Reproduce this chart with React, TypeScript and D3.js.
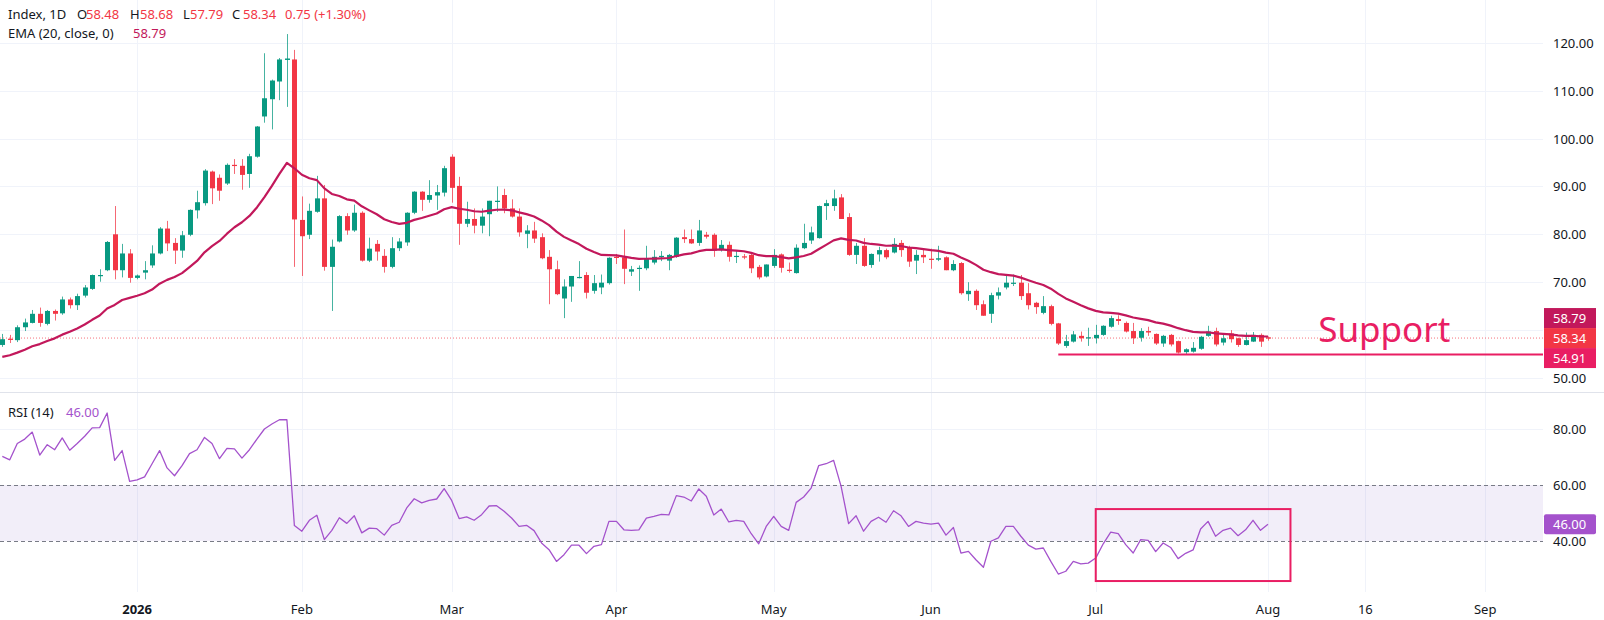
import React, { useEffect, useRef } from 'react';
import * as d3 from 'd3';

// Daily bars, index 0 = first visible bar
const opens = [
  56.9, 58.2, 57.9, 60.6, 61.5, 63.4, 61.3, 64.0, 63.5, 66.4,
  65.2, 67.2, 68.6, 71.3, 72.5, 80.0, 72.5, 76.0, 70.9, 72.0,
  73.5, 76.0, 81.2, 78.2, 76.6, 79.9, 85.0, 86.5, 93.1, 91.8,
  90.6, 94.5, 94.3, 92.6, 96.2, 104.6, 108.2, 111.9, 116.4, 116.5,
  83.0, 79.9, 84.7, 87.5, 73.2, 78.5, 83.8, 80.8, 84.5, 74.5,
  78.0, 75.5, 73.2, 77.1, 78.3, 84.5, 88.9, 87.2, 88.1, 88.7,
  96.2, 90.1, 82.2, 83.2, 81.8, 84.2, 86.8, 88.2, 85.4, 83.7,
  80.1, 80.8, 79.4, 75.3, 72.7, 66.6, 69.1, 71.0, 71.5, 68.2,
  68.9, 69.8, 75.3, 75.2, 72.2, 72.9, 72.9, 74.1, 75.4, 74.5,
  75.3, 79.4, 79.0, 78.2, 79.9, 79.9, 76.7, 77.8, 75.4, 75.4,
  75.7, 73.2, 71.2, 73.4, 75.8, 72.6, 71.9, 77.1, 78.7, 79.2,
  85.9, 85.9, 87.7, 83.6, 75.7, 77.6, 73.6, 75.8, 76.7, 76.2,
  78.2, 77.3, 74.5, 75.7, 74.9, 74.7, 75.2, 72.5, 74.0, 67.5,
  68.2, 65.4, 63.4, 67.2, 68.9, 69.8, 69.9, 67.7, 65.7, 63.6,
  65.0, 61.4, 56.7, 57.6, 58.8, 58.3, 58.3, 59.0, 60.7, 62.3,
  61.5, 59.8, 58.4, 59.8, 59.2, 57.2, 59.0, 57.7, 55.4, 55.5,
  56.1, 58.8, 59.8, 57.4, 59.3, 58.3, 56.9, 57.6, 59.0, 58.48,
];

const highs = [
  59.2, 59.0, 61.0, 62.4, 64.2, 64.7, 64.2, 64.3, 67.0, 66.8,
  67.6, 69.4, 71.6, 72.7, 78.6, 85.9, 78.0, 76.9, 71.6, 74.4,
  77.7, 81.5, 82.8, 79.2, 80.7, 85.2, 89.1, 93.6, 93.3, 92.5,
  94.8, 95.7, 95.7, 96.8, 102.6, 117.8, 112.3, 116.8, 121.8, 118.5,
  87.9, 86.4, 92.2, 90.3, 78.9, 84.0, 84.4, 86.2, 84.8, 79.3,
  78.8, 76.9, 79.4, 79.2, 84.6, 89.0, 89.0, 91.3, 90.3, 94.3,
  96.7, 92.0, 86.8, 85.4, 85.4, 87.0, 90.0, 89.5, 87.3, 85.4,
  81.9, 82.6, 80.2, 76.7, 74.5, 70.6, 71.3, 74.4, 72.1, 71.5,
  71.6, 75.2, 75.9, 81.0, 73.4, 73.5, 77.6, 76.7, 76.5, 75.9,
  79.4, 81.0, 81.0, 83.0, 80.5, 80.2, 78.8, 78.5, 76.5, 75.9,
  76.0, 73.6, 73.7, 76.9, 76.0, 74.1, 77.9, 82.2, 81.6, 86.0,
  87.2, 89.3, 88.4, 84.4, 78.2, 79.2, 76.0, 77.4, 77.0, 79.2,
  78.8, 77.6, 76.7, 77.0, 77.0, 77.6, 75.4, 74.6, 74.2, 70.0,
  68.5, 66.2, 67.8, 68.9, 71.4, 71.6, 71.5, 69.8, 65.9, 67.1,
  65.3, 61.5, 59.0, 59.8, 59.7, 60.5, 61.1, 61.0, 63.0, 63.1,
  61.8, 61.5, 60.4, 60.7, 59.3, 59.0, 59.2, 57.8, 56.2, 57.5,
  58.8, 60.9, 60.5, 59.1, 60.0, 58.4, 59.5, 59.6, 59.3, 58.68,
];

const lows = [
  56.5, 57.3, 57.5, 59.8, 61.4, 60.7, 61.0, 62.0, 63.2, 64.5,
  64.2, 66.8, 68.4, 70.1, 72.3, 70.6, 71.0, 69.9, 70.6, 70.6,
  73.0, 75.8, 76.5, 73.8, 75.1, 79.6, 83.3, 86.0, 86.3, 87.0,
  90.3, 92.6, 89.3, 89.7, 96.0, 103.3, 101.9, 108.0, 106.6, 73.2,
  71.3, 79.0, 84.5, 72.4, 64.0, 78.3, 79.9, 80.5, 74.3, 74.2,
  74.5, 72.0, 72.9, 76.5, 77.6, 84.2, 84.9, 86.6, 85.1, 87.9,
  86.6, 77.8, 81.5, 80.2, 80.2, 79.6, 84.7, 84.4, 83.5, 79.5,
  77.1, 78.2, 74.8, 65.4, 67.3, 62.5, 65.9, 70.8, 66.6, 67.6,
  67.5, 69.5, 73.8, 69.6, 71.3, 68.2, 72.5, 73.7, 74.4, 72.5,
  75.1, 78.2, 78.0, 77.6, 79.1, 75.3, 76.4, 74.3, 74.0, 74.8,
  71.9, 70.6, 71.0, 73.0, 72.0, 72.0, 71.8, 76.9, 78.0, 79.1,
  83.0, 84.9, 83.2, 75.5, 73.8, 73.2, 73.0, 74.3, 74.8, 76.0,
  75.3, 73.2, 71.7, 74.0, 72.8, 74.4, 72.5, 72.3, 67.4, 66.1,
  64.2, 63.0, 61.5, 66.4, 68.5, 69.2, 66.3, 64.3, 63.4, 63.3,
  61.0, 56.9, 56.3, 57.4, 57.6, 56.7, 57.2, 58.8, 60.5, 61.1,
  59.5, 57.1, 57.6, 58.8, 56.9, 56.5, 56.6, 55.1, 54.95, 55.3,
  55.9, 58.6, 56.6, 56.8, 57.4, 56.5, 56.8, 57.5, 56.5, 57.79,
];

const closes = [
  58.1, 58.0, 60.6, 61.6, 63.4, 61.5, 64.0, 63.4, 66.4, 65.2,
  67.1, 68.9, 71.5, 71.5, 78.4, 72.5, 76.0, 70.9, 71.4, 72.5,
  76.0, 81.2, 78.1, 76.6, 79.8, 85.1, 86.7, 93.3, 89.6, 89.1,
  94.5, 94.3, 92.4, 96.3, 102.5, 108.4, 112.1, 116.5, 116.7, 83.1,
  79.6, 84.9, 87.5, 73.2, 77.4, 83.8, 80.8, 84.5, 74.5, 77.0,
  76.4, 73.2, 77.1, 78.5, 84.5, 88.9, 87.2, 88.2, 88.8, 93.8,
  89.7, 82.2, 83.2, 81.8, 83.7, 87.0, 87.0, 85.4, 83.7, 80.4,
  80.8, 79.1, 75.0, 72.7, 67.5, 69.1, 71.3, 71.1, 67.8, 69.8,
  69.9, 75.1, 75.2, 72.8, 72.7, 73.0, 75.0, 75.3, 75.5, 75.7,
  79.3, 79.0, 78.1, 80.8, 79.5, 76.6, 77.8, 75.3, 75.5, 75.3,
  72.9, 71.0, 73.7, 75.7, 73.0, 72.4, 77.2, 78.2, 80.4, 85.9,
  86.5, 87.5, 83.2, 75.7, 77.6, 73.4, 75.9, 76.7, 75.2, 78.0,
  76.7, 74.3, 75.7, 75.2, 74.8, 75.0, 72.5, 73.8, 67.7, 68.2,
  65.2, 63.0, 67.3, 67.9, 69.9, 69.9, 67.1, 65.2, 64.8, 65.0,
  61.3, 57.2, 57.7, 59.1, 58.3, 58.5, 59.0, 60.9, 62.5, 61.9,
  59.7, 58.3, 59.8, 59.5, 57.2, 58.8, 57.0, 55.3, 56.0, 56.3,
  58.6, 59.7, 57.0, 58.3, 58.1, 56.9, 57.9, 59.0, 57.59, 58.34,
];

// RSI(14) per bar
const rsiValues = [
  70.2, 69.0, 74.8, 76.4, 78.9, 70.7, 74.4, 72.6, 76.8, 72.4,
  74.8, 77.4, 80.4, 80.5, 85.7, 68.8, 72.3, 61.3, 61.8, 62.9,
  67.6, 72.3, 66.1, 63.3, 66.9, 71.2, 72.6, 77.0, 74.8, 69.4,
  73.1, 72.9, 69.6, 72.6, 76.4, 80.0, 81.8, 83.3, 83.3, 45.5,
  43.5, 47.4, 49.2, 40.5, 43.8, 48.3, 46.3, 49.0, 42.9, 44.6,
  44.4, 42.1, 45.6, 46.7, 51.8, 55.1, 53.6, 54.5, 55.0, 58.7,
  54.5, 48.0, 48.6, 47.4, 49.4, 52.5, 52.6, 50.6, 48.2, 45.2,
  45.6, 43.7, 39.3, 36.9, 32.7, 35.1, 38.5, 38.5, 35.5, 38.1,
  38.7, 47.0, 47.0, 44.0, 43.8, 44.0, 48.2, 48.8, 49.5, 49.3,
  56.2, 55.7, 54.3, 58.6, 56.0, 49.3, 51.4, 46.8, 47.4, 47.0,
  42.6, 39.0, 45.2, 48.8, 45.2, 43.8, 53.8, 55.7, 58.9, 66.9,
  67.6, 68.8, 59.5, 46.2, 49.0, 43.5, 47.0, 48.5, 46.7, 50.8,
  49.0, 45.2, 47.0, 46.4, 46.0, 46.4, 42.1, 44.8, 35.7, 36.3,
  33.3, 30.6, 39.9, 41.1, 45.2, 45.2, 41.7, 38.5, 37.1, 37.5,
  32.7, 28.2, 29.2, 32.7, 31.8, 32.1, 33.9, 39.0, 43.2, 42.6,
  38.7, 35.7, 40.5, 40.2, 36.2, 39.3, 37.7, 33.7, 35.6, 36.8,
  44.3, 47.0, 41.7, 43.8, 44.6, 41.9, 44.0, 47.4, 43.8, 46.0,
];

const priceTicks = [50, 60, 70, 80, 90, 100, 110, 120];
const rsiTicks = [40, 60, 80];
const rsiBand = [40, 60];

// time axis labels, placed at bar index
const timeLabels = ['2026', 'Feb', 'Mar', 'Apr', 'May', 'Jun', 'Jul', 'Aug', '16', 'Sep'];
const timeBars = [18, 40, 60, 82, 103, 124, 146, 169, 182, 198];

const emaPeriod = 20;
const emaSeed = 54.4; // EMA value at the first visible bar
const lastEma = 58.79;
const lastClose = 58.34;
const lastRsi = 46.0;

const supportLevel = 54.91;
const supportFromBar = 141;
const supportTextAt = { bar: 175.7, price: 57.5 };
const rsiBox = { fromBar: 146, toBar: 172, top: 51.4, bottom: 25.7 };

const header = { symbol: 'Index, 1D', o: '58.48', h: '58.68', l: '57.79', c: '58.34', chg: '0.75 (+1.30%)' };

const W = 1604;
const H = 620;
const PLOT_RIGHT = 1543;
const PANE_SPLIT = 392;
const RSI_BOTTOM = 592;

const UP = '#089981';
const DOWN = '#f23645';
const EMA_COLOR = '#c2185b';
const RSI_COLOR = '#a452cc';
const PINK = '#e91e63';
const GRID = '#f0f3fa';
const TEXT = '#131722';
const FONT = "'Noto Sans', Roboto, sans-serif";

const App: React.FC = () => {
  const svgRef = useRef<SVGSVGElement>(null);

  useEffect(() => {
    if (!svgRef.current) return;
    const svg = d3.select(svgRef.current);
    svg.selectAll('*').remove();

    const n = closes.length;
    const x = d3.scaleLinear().domain([0, n - 1]).range([2.3, 1268]);
    const y = d3.scaleLinear().domain([50, 120]).range([378, 42.7]);
    const yRsi = d3.scaleLinear().domain([40, 60]).range([541, 485]);

    svg.append('rect').attr('width', W).attr('height', H).attr('fill', '#ffffff');

    // grid
    const grid = svg.append('g').attr('stroke', GRID).attr('stroke-width', 1);
    priceTicks.forEach(t => {
      grid.append('line')
        .attr('x1', 0).attr('x2', PLOT_RIGHT)
        .attr('y1', Math.round(y(t)) + 0.5).attr('y2', Math.round(y(t)) + 0.5);
    });
    grid.append('line')
      .attr('x1', 0).attr('x2', PLOT_RIGHT)
      .attr('y1', Math.round(yRsi(80)) + 0.5).attr('y2', Math.round(yRsi(80)) + 0.5);
    timeBars.forEach(b => {
      const gx = Math.round(x(b)) + 0.5;
      grid.append('line').attr('x1', gx).attr('x2', gx).attr('y1', 0).attr('y2', RSI_BOTTOM);
    });

    // pane separator
    svg.append('line')
      .attr('x1', 0).attr('x2', W)
      .attr('y1', PANE_SPLIT + 0.5).attr('y2', PANE_SPLIT + 0.5)
      .attr('stroke', '#e0e3eb');

    // RSI band
    svg.append('rect')
      .attr('x', 0).attr('width', PLOT_RIGHT)
      .attr('y', yRsi(rsiBand[1]))
      .attr('height', yRsi(rsiBand[0]) - yRsi(rsiBand[1]))
      .attr('fill', 'rgba(126, 87, 194, 0.1)');
    rsiBand.forEach(v => {
      svg.append('line')
        .attr('x1', 0).attr('x2', PLOT_RIGHT)
        .attr('y1', Math.round(yRsi(v)) + 0.5).attr('y2', Math.round(yRsi(v)) + 0.5)
        .attr('stroke', '#787b86')
        .attr('stroke-dasharray', '4,3');
    });

    // last price dotted line
    svg.append('line')
      .attr('x1', 0).attr('x2', PLOT_RIGHT)
      .attr('y1', y(lastClose)).attr('y2', y(lastClose))
      .attr('stroke', DOWN)
      .attr('stroke-opacity', 0.7)
      .attr('stroke-dasharray', '1,2');

    // candles
    const bars = d3.range(n);
    const candles = svg.append('g');
    candles.selectAll('line.wick')
      .data(bars)
      .enter()
      .append('line')
      .attr('class', 'wick')
      .attr('x1', i => Math.round(x(i)) + 0.5)
      .attr('x2', i => Math.round(x(i)) + 0.5)
      .attr('y1', i => y(highs[i]))
      .attr('y2', i => y(lows[i]))
      .attr('stroke', i => (closes[i] >= opens[i] ? UP : DOWN))
      .attr('stroke-opacity', 0.75);
    candles.selectAll('rect.body')
      .data(bars)
      .enter()
      .append('rect')
      .attr('class', 'body')
      .attr('x', i => Math.round(x(i)) - 2)
      .attr('width', 5)
      .attr('y', i => y(Math.max(opens[i], closes[i])))
      .attr('height', i => Math.max(1.2, Math.abs(y(opens[i]) - y(closes[i]))))
      .attr('fill', i => (closes[i] >= opens[i] ? UP : DOWN));

    // EMA (20, close)
    const k = 2 / (emaPeriod + 1);
    const ema: number[] = [];
    closes.forEach((c, i) => {
      ema.push(i === 0 ? emaSeed : ema[i - 1] + k * (c - ema[i - 1]));
    });
    const emaLine = d3.line<number>().x((_, i) => x(i)).y(d => y(d));
    svg.append('path')
      .datum(ema)
      .attr('fill', 'none')
      .attr('stroke', EMA_COLOR)
      .attr('stroke-width', 2.2)
      .attr('stroke-linejoin', 'round')
      .attr('d', emaLine);

    // support line + label
    svg.append('line')
      .attr('x1', x(supportFromBar)).attr('x2', PLOT_RIGHT)
      .attr('y1', y(supportLevel)).attr('y2', y(supportLevel))
      .attr('stroke', PINK)
      .attr('stroke-width', 2);
    svg.append('text')
      .attr('x', x(supportTextAt.bar))
      .attr('y', y(supportTextAt.price))
      .attr('fill', PINK)
      .attr('font-family', FONT)
      .attr('font-size', 35)
      .text('Support');

    // RSI line
    const rsiLine = d3.line<number>().x((_, i) => x(i)).y(d => yRsi(d));
    svg.append('path')
      .datum(rsiValues)
      .attr('fill', 'none')
      .attr('stroke', RSI_COLOR)
      .attr('stroke-width', 1.3)
      .attr('stroke-linejoin', 'round')
      .attr('d', rsiLine);

    // RSI highlight box
    svg.append('rect')
      .attr('x', x(rsiBox.fromBar))
      .attr('y', yRsi(rsiBox.top))
      .attr('width', x(rsiBox.toBar) - x(rsiBox.fromBar))
      .attr('height', yRsi(rsiBox.bottom) - yRsi(rsiBox.top))
      .attr('fill', 'none')
      .attr('stroke', PINK)
      .attr('stroke-width', 2);

    // price scale labels (stacked around the last price)
    const labelH = 20;
    const closeY = y(lastClose);
    const tags = [
      { v: lastEma, cy: Math.min(y(lastEma), closeY - labelH), color: EMA_COLOR },
      { v: lastClose, cy: closeY, color: DOWN },
      { v: supportLevel, cy: Math.max(y(supportLevel), closeY + labelH), color: PINK },
    ];
    const axisText = (sel: d3.Selection<SVGTextElement, unknown, null, undefined>) =>
      sel.attr('font-family', FONT).attr('font-size', 13).attr('dominant-baseline', 'central');

    priceTicks.forEach(t => {
      const ty = y(t);
      const hidden = tags.some(tag => Math.abs(tag.cy - ty) < labelH * 0.75);
      if (hidden) return;
      svg.append('text').call(axisText)
        .attr('x', 1553).attr('y', ty)
        .attr('fill', TEXT)
        .text(t.toFixed(2));
    });
    tags.forEach(tag => {
      svg.append('rect')
        .attr('x', 1544).attr('width', 52)
        .attr('y', tag.cy - labelH / 2).attr('height', labelH)
        .attr('fill', tag.color);
      svg.append('text').call(axisText)
        .attr('x', 1553).attr('y', tag.cy)
        .attr('fill', '#ffffff')
        .text(tag.v.toFixed(2));
    });

    rsiTicks.forEach(t => {
      svg.append('text').call(axisText)
        .attr('x', 1553).attr('y', yRsi(t))
        .attr('fill', TEXT)
        .text(t.toFixed(2));
    });
    svg.append('rect')
      .attr('x', 1544).attr('width', 52)
      .attr('y', yRsi(lastRsi) - labelH / 2).attr('height', labelH)
      .attr('rx', 2)
      .attr('fill', RSI_COLOR);
    svg.append('text').call(axisText)
      .attr('x', 1553).attr('y', yRsi(lastRsi))
      .attr('fill', '#ffffff')
      .text(lastRsi.toFixed(2));

    // time axis
    timeLabels.forEach((label, j) => {
      svg.append('text').call(axisText)
        .attr('x', x(timeBars[j]))
        .attr('y', 609)
        .attr('text-anchor', 'middle')
        .attr('font-weight', j === 0 ? 700 : 400)
        .attr('fill', TEXT)
        .text(label);
    });

    // legends
    const legend = (ly: number, parts: [string, string, number][]) => {
      const t = svg.append('text').call(axisText).attr('y', ly);
      parts.forEach(([s, color, px]) => {
        t.append('tspan').attr('x', px).attr('fill', color).text(s);
      });
    };
    legend(14, [
      [header.symbol, TEXT, 8],
      ['O', TEXT, 77], [header.o, DOWN, 86],
      ['H', TEXT, 130], [header.h, DOWN, 140],
      ['L', TEXT, 183], [header.l, DOWN, 190],
      ['C', TEXT, 232], [header.c, DOWN, 243],
      [header.chg, DOWN, 285],
    ]);
    legend(33, [
      [`EMA (${emaPeriod}, close, 0)`, TEXT, 8],
      [lastEma.toFixed(2), EMA_COLOR, 133],
    ]);
    legend(412, [
      ['RSI (14)', TEXT, 8],
      [lastRsi.toFixed(2), RSI_COLOR, 66],
    ]);
  }, []);

  return (
    <div style={{ position: 'absolute', left: 0, top: 0, width: W, height: H, background: '#ffffff' }}>
      <svg ref={svgRef} width={W} height={H} style={{ display: 'block' }} />
    </div>
  );
};

export default App;
